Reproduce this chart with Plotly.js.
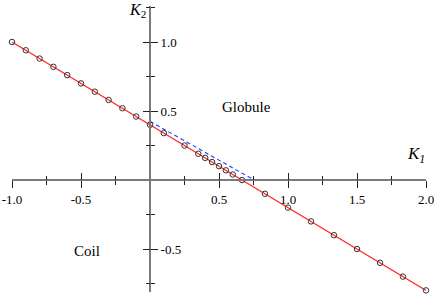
<!DOCTYPE html>
<html>
<head>
<meta charset="utf-8">
<script src="https://cdn.plot.ly/plotly-3.0.1.min.js"></script>
<style>html,body{margin:0;padding:0;background:#fff;}#chart{width:436px;height:295px;}</style>
</head>
<body>
<div id="chart"></div>
<script>
// Data
const pointK1 = [-1.0, -0.9, -0.8, -0.7, -0.6, -0.5, -0.4, -0.3, -0.2, -0.1, 0.0,
                 0.1, 0.25, 0.35, 0.4, 0.45, 0.5, 0.55, 0.6, 0.667, 0.833,
                 1.0, 1.167, 1.333, 1.5, 1.667, 1.833, 2.0];
const pointK2 = [1.0, 0.94, 0.88, 0.82, 0.76, 0.70, 0.64, 0.58, 0.52, 0.46, 0.40,
                 0.34, 0.25, 0.19, 0.16, 0.13, 0.10, 0.07, 0.04, 0.0, -0.10,
                 -0.20, -0.30, -0.40, -0.50, -0.60, -0.70, -0.80];
const fitK1 = [-1.0, 2.0];
const fitK2 = [1.0, -0.8];
const dashK1 = [0.0, 0.755];
const dashK2 = [0.425, 0.0];

const xTickVals = [-1.0, -0.5, 0.5, 1.0, 1.5, 2.0];
const xTickText = ['-1.0', '-0.5', '0.5', '1.0', '1.5', '2.0'];
const xMinorVals = [-0.75, -0.25, 0.25, 0.75, 1.25, 1.75];
const yTickVals = [-0.5, 0.5, 1.0];
const yTickText = ['-0.5', '0.5', '1.0'];
const yMinorVals = [-0.75, -0.25, 0.25, 0.75, 1.25];

const FONT = '"Liberation Serif", "Times New Roman", Times, serif';
const xRange = [-1.0, 2.0];
const yRange = [-0.81, 1.26];
const xDomain = [12/436, 426/436];
const yDomain = [(295 - 291.78)/295, (295 - 6.12)/295];
const xPos = (295 - 180)/295;   // where x axis crosses (y = 0)
const yPos = 150/436;           // where y axis crosses (x = 0)

const traces = [
  {x: fitK1, y: fitK2, mode: 'lines', line: {color: '#ff2a2a', width: 1.2},
   hoverinfo: 'skip', showlegend: false},
  {x: dashK1, y: dashK2, mode: 'lines', line: {color: '#1f3cff', width: 1.1, dash: '4px,3px'},
   hoverinfo: 'skip', showlegend: false},
  {x: pointK1, y: pointK2, mode: 'markers', cliponaxis: false,
   marker: {symbol: 'circle-open', size: 5.5, color: '#333', line: {width: 1, color: '#333'}},
   showlegend: false},
  {x: [], y: [], xaxis: 'x2', yaxis: 'y2', mode: 'markers', showlegend: false}
];

const commonX = {range: xRange, domain: xDomain, anchor: 'free', position: xPos,
  showgrid: false, zeroline: false, tickmode: 'array', tickvals: xTickVals,
  ticklen: 7, tickwidth: 1, tickcolor: '#222', fixedrange: true};
const commonY = {range: yRange, domain: yDomain, anchor: 'free', position: yPos,
  showgrid: false, zeroline: false, tickmode: 'array', tickvals: yTickVals,
  ticklen: 7, tickwidth: 1, tickcolor: '#222', side: 'right', fixedrange: true};

const layout = {
  width: 436, height: 295,
  margin: {l: 0, r: 0, t: 0, b: 0, pad: 0},
  paper_bgcolor: '#fff', plot_bgcolor: 'rgba(0,0,0,0)',
  font: {family: FONT, size: 13, color: '#000'},
  showlegend: false,
  xaxis: Object.assign({}, commonX, {
    ticks: 'outside', ticktext: xTickText, showline: true, linecolor: '#7a7a7a', linewidth: 2,
    tickfont: {family: FONT, size: 13, color: '#000'},
    minor: {tickmode: 'array', tickvals: xMinorVals, ticks: 'outside', ticklen: 4, tickwidth: 1, tickcolor: '#222'}
  }),
  xaxis2: Object.assign({}, commonX, {
    overlaying: 'x', ticks: 'inside', showticklabels: false, showline: false,
    minor: {tickmode: 'array', tickvals: xMinorVals, ticks: 'inside', ticklen: 4, tickwidth: 1, tickcolor: '#222'}
  }),
  yaxis: Object.assign({}, commonY, {
    ticks: 'outside', ticktext: yTickText, showline: true, linecolor: '#7a7a7a', linewidth: 2,
    tickfont: {family: FONT, size: 13, color: '#000'},
    minor: {tickmode: 'array', tickvals: yMinorVals, ticks: 'outside', ticklen: 4, tickwidth: 1, tickcolor: '#222'}
  }),
  yaxis2: Object.assign({}, commonY, {
    overlaying: 'y', ticks: 'inside', showticklabels: false, showline: false,
    minor: {tickmode: 'array', tickvals: yMinorVals, ticks: 'inside', ticklen: 4, tickwidth: 1, tickcolor: '#222'}
  }),
  annotations: [
    {xref: 'x', yref: 'y', x: 1.93, y: 0.18, text: '<i>K</i><sub><i>1</i></sub>', showarrow: false,
     font: {family: FONT, size: 17, color: '#000'}, xanchor: 'center', yanchor: 'middle'},
    {xref: 'x', yref: 'y', x: -0.09, y: 1.225, text: '<i>K</i><sub>2</sub>', showarrow: false,
     font: {family: FONT, size: 16, color: '#000'}, xanchor: 'center', yanchor: 'middle'},
    {xref: 'x', yref: 'y', x: 0.70, y: 0.53, text: 'Globule', showarrow: false,
     font: {family: FONT, size: 15, color: '#000'}, xanchor: 'center', yanchor: 'middle'},
    {xref: 'x', yref: 'y', x: -0.455, y: -0.515, text: 'Coil', showarrow: false,
     font: {family: FONT, size: 15, color: '#000'}, xanchor: 'center', yanchor: 'middle'}
  ]
};

Plotly.newPlot('chart', traces, layout, {staticPlot: true, displayModeBar: false});
</script>
</body>
</html>
